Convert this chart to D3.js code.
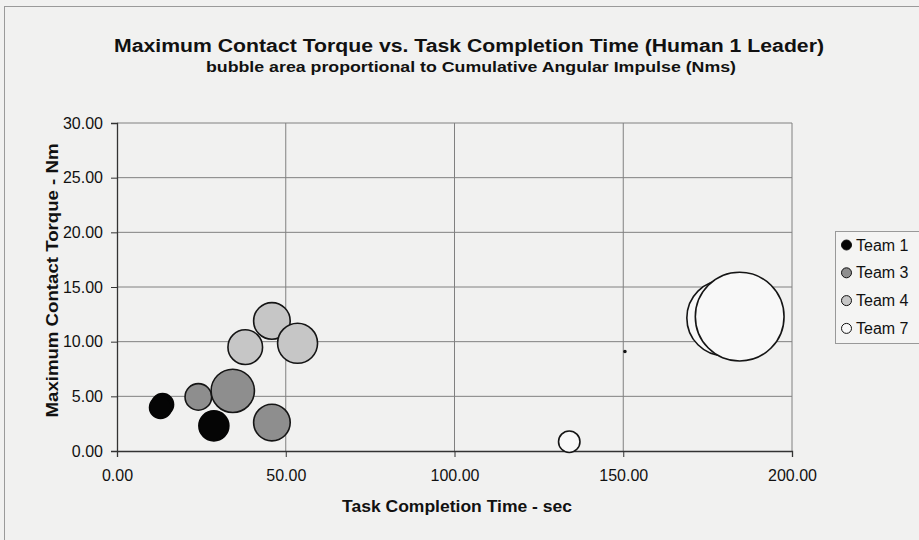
<!DOCTYPE html>
<html lang="en">
<head>
    <meta charset="UTF-8">
    <title>Maximum Contact Torque vs. Task Completion Time</title>
    <script src="https://d3js.org/d3.v7.min.js"></script>
    <style>
        body { margin: 0; background: #f1f1f0; }
        svg { display: block; }
        text { font-family: "Liberation Sans", Arial, sans-serif; fill: #111; }
        .tick text { font-size: 16px; }
        .title { font-size: 18px; font-weight: bold; }
        .subtitle { font-size: 14px; font-weight: bold; }
        .axis-title { font-size: 16px; font-weight: bold; }
        .grid line { stroke: #808080; stroke-width: 1; }
        .bubble { stroke-width: 1.6; }
    </style>
</head>
<body>
<svg id="chart"></svg>
<script>
    // data
    const teams = ["Team 1", "Team 3", "Team 4", "Team 7"];
    const teamColors = ["#050505", "#8e8e8e", "#c6c6c6", "#f8f8f8"];
    const pointTeam = ["Team 1", "Team 1", "Team 1", "Team 3", "Team 3", "Team 3", "Team 4", "Team 4", "Team 4", "Team 7", "Team 7", "Team 7", "Team 7"];
    const timeSec  = [13.5, 12.9, 28.7, 24.1, 34.3, 45.9, 38.0, 45.9, 53.5, 134.0, 150.5, 180.1, 184.5];
    const torqueNm = [4.25, 3.98, 2.3, 4.95, 5.5, 2.6, 9.5, 11.9, 9.85, 0.85, 9.1, 12.17, 12.29];
    const impulseNms = [12.1, 12.1, 22.5, 17.7, 47.0, 33.5, 30.0, 33.5, 40.0, 11.5, 0.1, 144.5, 197.0];
    const xTicks = [0, 50, 100, 150, 200];
    const yTicks = [0, 5, 10, 15, 20, 25, 30];

    const W = 919, H = 540;
    const plot = { left: 117, right: 792, top: 123, bottom: 451 };

    const svg = d3.select("#chart").attr("width", W).attr("height", H);

    // outer frame
    svg.append("rect")
        .attr("x", 4.5).attr("y", 6.5)
        .attr("width", W + 10).attr("height", H + 10)
        .attr("fill", "#f1f1f0").attr("stroke", "#9a9a9a");

    const x = d3.scaleLinear().domain([0, 200]).range([plot.left, plot.right]);
    const y = d3.scaleLinear().domain([0, 30]).range([plot.bottom, plot.top]);
    const r = d3.scaleSqrt().domain([0, 200]).range([0, 44.7]);
    const color = d3.scaleOrdinal().domain(teams).range(teamColors);

    // gridlines
    svg.append("g").attr("class", "grid")
        .selectAll("line").data(yTicks.slice(1)).enter().append("line")
        .attr("x1", plot.left).attr("x2", plot.right)
        .attr("y1", d => y(d)).attr("y2", d => y(d));
    svg.append("g").attr("class", "grid")
        .selectAll("line").data(xTicks.slice(1)).enter().append("line")
        .attr("y1", plot.top).attr("y2", plot.bottom)
        .attr("x1", d => x(d)).attr("x2", d => x(d));

    // axes
    const xAxis = svg.append("g")
        .attr("transform", `translate(0,${plot.bottom})`)
        .call(d3.axisBottom(x).tickValues(xTicks).tickFormat(d3.format(".2f")).tickSize(6).tickPadding(8));
    const yAxis = svg.append("g")
        .attr("transform", `translate(${plot.left},0)`)
        .call(d3.axisLeft(y).tickValues(yTicks).tickFormat(d3.format(".2f")).tickSize(6).tickPadding(8));
    [xAxis, yAxis].forEach(a => {
        a.select(".domain").attr("stroke", "#333").attr("stroke-width", 1.3);
        a.selectAll(".tick line").attr("stroke", "#333");
        a.selectAll(".tick text").attr("fill", "#111");
    });
    xAxis.selectAll(".tick text").attr("dy", "1.0em");

    // bubbles
    const points = timeSec.map((t, i) => ({ team: pointTeam[i], t, torque: torqueNm[i], imp: impulseNms[i] }));
    svg.append("g").selectAll("circle").data(points).enter().append("circle")
        .attr("class", "bubble")
        .attr("cx", d => x(d.t))
        .attr("cy", d => y(d.torque))
        .attr("r", d => Math.max(r(d.imp), 1))
        .attr("fill", d => d.imp < 1 ? "#111" : color(d.team))
        .attr("stroke", d => d.team === "Team 1" ? "#050505" : "#151515");

    // titles
    svg.append("text").attr("class", "title")
        .attr("x", 469).attr("y", 52).attr("text-anchor", "middle")
        .attr("textLength", 710).attr("lengthAdjust", "spacingAndGlyphs")
        .text("Maximum Contact Torque vs. Task Completion Time (Human 1 Leader)");
    svg.append("text").attr("class", "subtitle")
        .attr("x", 471).attr("y", 72).attr("text-anchor", "middle")
        .attr("textLength", 530).attr("lengthAdjust", "spacingAndGlyphs")
        .text("bubble area proportional to Cumulative Angular Impulse (Nms)");
    svg.append("text").attr("class", "axis-title")
        .attr("x", 457).attr("y", 512).attr("text-anchor", "middle")
        .attr("textLength", 230).attr("lengthAdjust", "spacingAndGlyphs")
        .text("Task Completion Time - sec");
    svg.append("text").attr("class", "axis-title")
        .attr("transform", "translate(58,280.5) rotate(-90)")
        .attr("text-anchor", "middle")
        .attr("textLength", 274).attr("lengthAdjust", "spacingAndGlyphs")
        .text("Maximum Contact Torque - Nm");

    // legend
    const legend = svg.append("g").attr("transform", "translate(835,231)");
    legend.append("rect")
        .attr("x", 0.5).attr("y", 0.5).attr("width", 100).attr("height", 112)
        .attr("fill", "#f4f4f3").attr("stroke", "#999");
    const item = legend.selectAll("g").data(teams).enter().append("g")
        .attr("transform", (d, i) => `translate(0,${14 + i * 27.8})`);
    item.append("circle")
        .attr("cx", 11.5).attr("cy", 0).attr("r", 5)
        .attr("fill", d => color(d)).attr("stroke", "#111").attr("stroke-width", 1);
    item.append("text")
        .attr("x", 21).attr("y", 5.5)
        .style("font-size", "16px")
        .text(d => d);
</script>
</body>
</html>
